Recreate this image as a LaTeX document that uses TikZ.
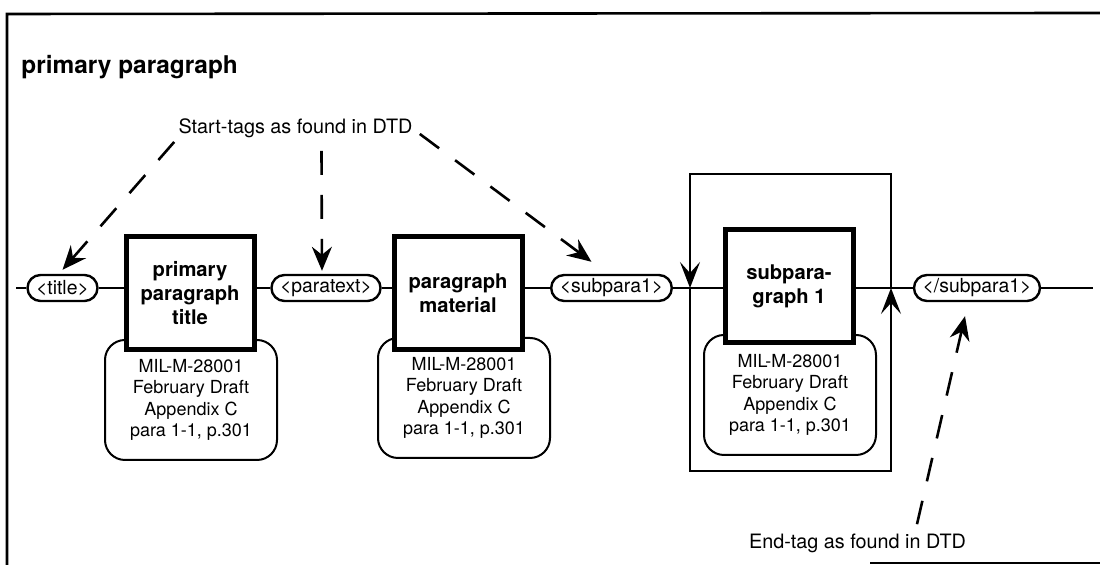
\documentclass[tikz,border=0pt]{standalone}
\usepackage{fontspec}
\setmainfont{TeX Gyre Heros}
\usetikzlibrary{arrows.meta}
\tikzset{
  tag/.style={draw, line width=1.2pt, rounded corners=6.5pt, fill=white, inner xsep=4.3pt, inner ysep=0pt, minimum height=13pt, font=\fontsize{9.7}{11}\selectfont},
  elem/.style={draw, line width=2.5pt, fill=white, minimum width=64pt, minimum height=56.5pt, inner sep=0pt, align=center, font=\fontsize{10.1}{12}\selectfont\bfseries},
  src/.style={draw, line width=1pt, rounded corners=10pt, fill=white, minimum width=86pt, minimum height=60pt, inner sep=0pt, align=center, font=\fontsize{9}{10.75}\selectfont},
  note/.style={inner sep=2pt, font=\fontsize{9.9}{12}\selectfont},
  dasharrow/.style={line width=1.3pt, dash pattern=on 12pt off 10pt, -{Stealth[length=12pt,width=10pt,inset=4pt]}},
  looparrow/.style={line width=1pt, -{Stealth[length=13pt,width=10pt,inset=5.5pt]}},
}
\begin{document}
\begin{tikzpicture}[x=0.5pt,y=-0.5pt]
  \useasboundingbox (0,0) rectangle (1100,565);

  % frame
  \coordinate (fa) at (7,565);
  \coordinate (fb) at (7,14);
  \coordinate (fc) at (1100,13);
  \coordinate (fd) at (870,563);
  \coordinate (fe) at (1100,563);
  \draw[line width=1.3pt] (fa) -- (fb) -- (fc);
  \draw[line width=1.3pt] (fd) -- (fe);

  \node[anchor=west, inner sep=0pt, font=\fontsize{12.2}{14}\selectfont\bfseries] (head) at (21,67) {primary paragraph};
  \node[note] (starttags) at (295.5,128) {Start-tags as found in DTD};
  \node[note] (endtag) at (857.5,543) {End-tag as found in DTD};

  % sources
  \node[src] (s1) at (191,400) {MIL-M-28001\\February Draft\\Appendix C\\para 1-1, p.301};
  \node[src] (s2) at (464,398) {MIL-M-28001\\February Draft\\Appendix C\\para 1-1, p.301};
  \node[src] (s3) at (790,395) {MIL-M-28001\\February Draft\\Appendix C\\para 1-1, p.301};

  % elements
  \node[elem] (e1) at (190,293.5) {primary\\paragraph\\title};
  \node[elem] (e2) at (458,293) {paragraph\\material};
  \node[elem] (e3) at (789,286.5) {subpara-\\graph 1};

  % tags
  \node[tag] (title) at (62.5,288) {<title>};
  \node[tag] (paratext) at (326,288) {<paratext>};
  \node[tag] (sub) at (611.5,288) {<subpara1>};
  \node[tag] (endsub) at (977,288) {</subpara1>};

  % main line
  \coordinate (in) at (16,288);
  \coordinate (out) at (1093,288);
  \draw[line width=1pt] (in) -- (title);
  \draw[line width=1pt] (title) -- (title -| e1.west);
  \draw[line width=1pt] (paratext -| e1.east) -- (paratext) -- (paratext -| e2.west);
  \draw[line width=1pt] (sub -| e2.east) -- (sub) -- (sub -| e3.west);
  \draw[line width=1pt] (endsub -| e3.east) -- (endsub) -- (out);

  % loop round subparagraph
  \coordinate (lin) at (690,288);
  \coordinate (lout) at (891,288);
  \coordinate (ltl) at (690,174);
  \coordinate (ltr) at (891,174);
  \coordinate (lbl) at (690,471);
  \coordinate (lbr) at (891,471);
  \draw[looparrow] (lout) -- (ltr) -- (ltl) -- (lin);
  \draw[looparrow] (lin) -- (lbl) -- (lbr) -- (lout);

  % pointers
  \draw[dasharrow] (starttags.south west) -- ([yshift=2pt]title.north);
  \draw[dasharrow] ([xshift=13pt,yshift=-4.5pt]starttags.south) -- ([xshift=-2pt,yshift=1.5pt]paratext.north);
  \draw[dasharrow] ([xshift=1.5pt,yshift=4pt]starttags.south east) -- ([xshift=-10pt,yshift=6pt]sub.north);
  \draw[dasharrow] ([xshift=29.75pt,yshift=2.5pt]endtag.north) -- ([xshift=-6pt,yshift=-7pt]endsub.south);
\end{tikzpicture}
\end{document}
